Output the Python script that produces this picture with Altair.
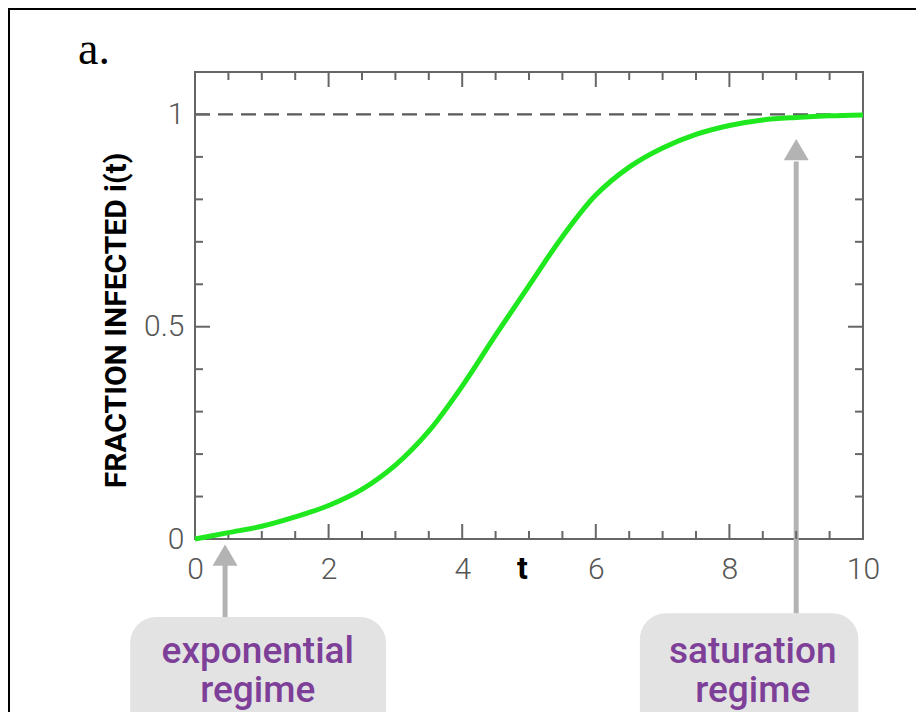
import altair as alt
import pandas as pd

# ---- data ----
t_vals = [0.0, 0.5, 1.0, 1.5, 2.0, 2.5, 3.0, 3.5, 4.0, 4.5, 5.0,
          5.5, 6.0, 6.5, 7.0, 7.5, 8.0, 8.5, 9.0, 9.5, 10.0]
i_vals = [0.0, 0.015, 0.030, 0.052, 0.079, 0.117, 0.174, 0.254, 0.360, 0.480, 0.597,
          0.712, 0.810, 0.876, 0.921, 0.953, 0.974, 0.987, 0.993, 0.997, 0.999]

x_label_vals = [0, 2, 4, 6, 8, 10]
x_minor_vals = [0.5, 1, 1.5, 2.5, 3, 3.5, 4.5, 5, 5.5, 6.5, 7, 7.5, 8.5, 9, 9.5]
y_label_vals = [0, 0.5, 1]
y_minor_vals = [0.1, 0.2, 0.3, 0.4, 0.6, 0.7, 0.8, 0.9]

saturation_level = [1.0]

# annotation arrows (t position, arrow head centre, shaft top, shaft bottom)
arrow_t = [0.45, 9.0]
arrow_head = [-0.038, 0.917]
arrow_shaft_top = [-0.061, 0.889]
arrow_shaft_bottom = [-0.184, -0.175]

# label boxes
box_t0 = [-0.97, 6.66]
box_t1 = [2.86, 9.93]
box_top = [-0.184, -0.175]
box_bottom = [-0.65, -0.65]

label_t = [0.94, 0.94, 8.35, 8.35]
label_i = [-0.292, -0.384, -0.292, -0.384]
label_text = ["exponential", "regime", "saturation", "regime"]

# ---- tables ----
curve_df = pd.DataFrame({"t": t_vals, "i": i_vals})
xmaj_df = pd.DataFrame({"t": x_label_vals})
xmin_df = pd.DataFrame({"t": x_minor_vals})
ymaj_df = pd.DataFrame({"i": y_label_vals})
ymin_df = pd.DataFrame({"i": y_minor_vals})
dash_df = pd.DataFrame({"t0": [0], "t1": [10], "i": saturation_level})
arrow_df = pd.DataFrame({"t": arrow_t, "head": arrow_head,
                         "top": arrow_shaft_top, "bottom": arrow_shaft_bottom})
box_df = pd.DataFrame({"t0": box_t0, "t1": box_t1, "top": box_top, "bottom": box_bottom})
label_df = pd.DataFrame({"t": label_t, "i": label_i, "text": label_text})
one = pd.DataFrame({"k": [0]})

W, H = 668, 467
AX = "#666666"
xs = alt.Scale(domain=[0, 10], nice=False, zero=False)
ys = alt.Scale(domain=[0, 1.1], nice=False, zero=False)

x_axis = alt.Axis(values=x_label_vals, ticks=False, domain=False, grid=False,
                  labelFont="Roboto", labelFontWeight=300, labelFontSize=30,
                  labelColor="#555555", labelPadding=15, labelFlush=False,
                  labelOverlap=False, format="d",
                  title="t", titleFont="Roboto", titleFontWeight="bold",
                  titleFontSize=32, titleColor="black", titleX=327, titleY=39,
                  titleBaseline="alphabetic", titleAlign="center")
y_axis = alt.Axis(values=y_label_vals, ticks=False, domain=False, grid=False,
                  labelFont="Roboto", labelFontWeight=300, labelFontSize=30,
                  labelColor="#555555", labelPadding=11, labelFlush=False,
                  labelOverlap=False, format=".1~f",
                  title="FRACTION INFECTED i(t)", titleFont="Roboto",
                  titleFontWeight="bold", titleFontSize=30, titleColor="black",
                  titleAngle=270, titleX=-70, titleY=248,
                  titleBaseline="alphabetic", titleAlign="center")

curve = alt.Chart(curve_df).mark_line(
    color="#1fe81f", strokeWidth=5, interpolate="catmull-rom"
).encode(
    x=alt.X("t:Q", scale=xs, axis=x_axis),
    y=alt.Y("i:Q", scale=ys, axis=y_axis),
)

dash = alt.Chart(dash_df).mark_rule(color="#5a5a5a", strokeWidth=2.2, strokeDash=[15, 8]).encode(
    x=alt.X("t0:Q", scale=xs), x2="t1:Q", y=alt.Y("i:Q", scale=ys)
)

def xticks(df, length):
    bottom = alt.Chart(df).mark_rule(color=AX, strokeWidth=2).encode(
        x=alt.X("t:Q", scale=xs), y=alt.value(H), y2=alt.value(H - length))
    top = alt.Chart(df).mark_rule(color=AX, strokeWidth=2).encode(
        x=alt.X("t:Q", scale=xs), y=alt.value(0), y2=alt.value(length))
    return [bottom, top]

def yticks(df, length):
    left = alt.Chart(df).mark_rule(color=AX, strokeWidth=2).encode(
        y=alt.Y("i:Q", scale=ys), x=alt.value(0), x2=alt.value(length))
    right = alt.Chart(df).mark_rule(color=AX, strokeWidth=2).encode(
        y=alt.Y("i:Q", scale=ys), x=alt.value(W), x2=alt.value(W - length))
    return [left, right]

ticks = xticks(xmaj_df, 15) + xticks(xmin_df, 8) + yticks(ymaj_df, 15) + yticks(ymin_df, 8)

boxes = alt.Chart(box_df).mark_rect(color="#e3e3e3", cornerRadius=26).encode(
    x=alt.X("t0:Q", scale=xs), x2="t1:Q",
    y=alt.Y("top:Q", scale=ys), y2="bottom:Q")

shafts = alt.Chart(arrow_df).mark_rule(color="#b3b3b3", strokeWidth=5).encode(
    x=alt.X("t:Q", scale=xs), y=alt.Y("top:Q", scale=ys), y2="bottom:Q")

heads = alt.Chart(arrow_df).mark_point(
    shape="M0,-0.85L1,0.85L-1,0.85Z", filled=True, color="#b3b3b3", opacity=1, size=625
).encode(x=alt.X("t:Q", scale=xs), y=alt.Y("head:Q", scale=ys))

labels = alt.Chart(label_df).mark_text(
    font="Roboto", fontSize=37, fontWeight=500, color="#7d3f98",
    align="center", baseline="alphabetic"
).encode(x=alt.X("t:Q", scale=xs), y=alt.Y("i:Q", scale=ys), text="text:N")

panel_tag = alt.Chart(one).mark_text(
    text="a.", font="Liberation Serif", fontSize=46, color="black",
    align="left", baseline="alphabetic"
).encode(x=alt.value(-117), y=alt.value(-8))

frame_top = alt.Chart(one).mark_rule(color="black", strokeWidth=3).encode(
    x=alt.value(-187), x2=alt.value(W + 60), y=alt.value(-63.5))
frame_left = alt.Chart(one).mark_rule(color="black", strokeWidth=3).encode(
    x=alt.value(-186.5), y=alt.value(-64), y2=alt.value(H + 230))

chart = alt.layer(
    boxes, shafts, heads, labels, dash, *ticks, curve, panel_tag, frame_top, frame_left
).properties(
    width=W, height=H,
    padding={"left": 187, "top": 64, "right": 53, "bottom": 173},
    autosize=alt.AutoSizeParams(type="none"),
    background="white",
).configure_view(stroke=AX, strokeWidth=2)

chart.save("out.html", embed_options={"renderer": "svg", "actions": False})
